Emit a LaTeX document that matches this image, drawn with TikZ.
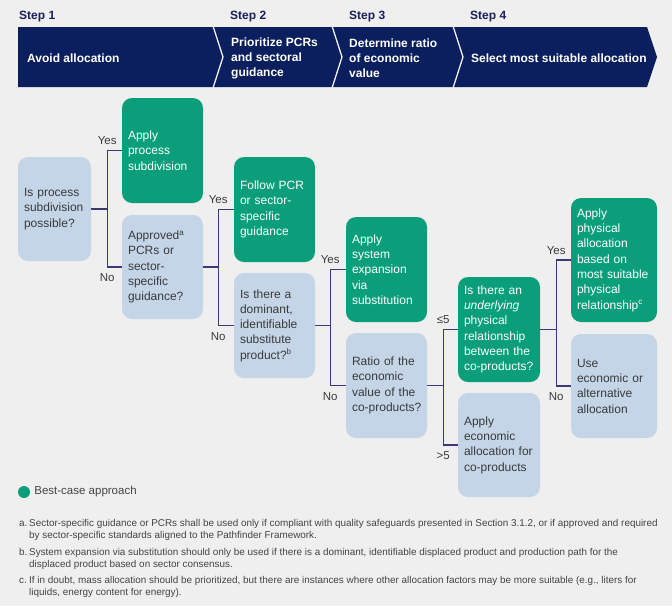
\documentclass[tikz,border=0pt]{standalone}
\usepackage{fontspec}
\setmainfont{Liberation Sans}
\usetikzlibrary{positioning}

\definecolor{pagegray}{HTML}{EFEFEF}
\definecolor{bandblue}{HTML}{0B1F5E}
\definecolor{steptext}{HTML}{1A1E5C}
\definecolor{bestgreen}{HTML}{0A9E7A}
\definecolor{queryblue}{HTML}{C3D5E7}
\definecolor{linkblue}{HTML}{3A3878}
\definecolor{textgray}{HTML}{3A3A3A}
\definecolor{notegray}{HTML}{444444}

\begin{document}
\begin{tikzpicture}[
        x=1pt, y=-1pt,
        box/.style={rounded corners=10pt, inner xsep=6pt, inner ysep=0pt, align=left,
            font=\fontsize{12}{15.3}\selectfont},
        best/.style={box, fill=bestgreen, text=white},
        query/.style={box, fill=queryblue, text=textgray},
        link/.style={draw=linkblue, line width=1.3pt},
        answer/.style={font=\fontsize{11.5}{13}\selectfont, text=textgray, inner sep=1pt},
        steplabel/.style={anchor=west, inner sep=0pt, text=steptext, font=\fontsize{12}{15}\selectfont\bfseries},
        bandtext/.style={anchor=west, inner sep=0pt, align=left, text=white, font=\fontsize{12}{15}\selectfont\bfseries},
        note/.style={anchor=north west, inner sep=0pt, align=left, text=notegray, font=\fontsize{9.9}{12}\selectfont}
    ]
        \useasboundingbox[fill=pagegray] (0,0) rectangle (672,606);

        % Steps
        \node[steplabel] (step1) at (19,17)  {Step 1};
        \node[steplabel] (step2) at (230,17) {Step 2};
        \node[steplabel] (step3) at (349,17) {Step 3};
        \node[steplabel] (step4) at (470,17) {Step 4};
        \fill[bandblue] (18,27) -- (647,27) -- (657,57) -- (647,87) -- (18,87) -- cycle;
        \foreach \x in {213,332,453}
            \draw[pagegray, line width=1.3pt] (\x,26) -- (\x+10,57) -- (\x,88);
        \node[bandtext] (avoid)    at (27,58)  {Avoid allocation};
        \node[bandtext] (pcrs)     at (231,58) {Prioritize PCRs\\and sectoral\\guidance};
        \node[bandtext] (ratio)    at (349,58) {Determine ratio\\of economic\\value};
        \node[bandtext] (suitable) at (471,58) {Select most suitable allocation};

        % Decision boxes
        \node[query, text width=61pt, minimum height=104pt] (subdiv) at (54.5,209)
            {Is process\\subdivision\\possible?};
        \node[best, text width=69pt, minimum height=105pt] (applysub) at (162.5,150.5)
            {Apply\\process\\subdivision};
        \node[query, text width=69pt, minimum height=104pt] (approved) at (162.5,267)
            {Approved\textsuperscript{a}\\PCRs or\\sector-\\specific\\guidance?};
        \node[best, text width=69pt, minimum height=105pt] (follow) at (274.5,209.5)
            {Follow PCR\\or sector-\\specific\\guidance};
        \node[query, text width=69pt, minimum height=105pt] (dominant) at (274.5,325.5)
            {Is there a\\dominant,\\identifiable\\substitute\\product?\textsuperscript{b}};
        \node[best, text width=69pt, minimum height=105pt] (expansion) at (386.5,269.5)
            {Apply\\system\\expansion\\via\\substitution};
        \node[query, text width=69pt, minimum height=105pt] (econratio) at (386.5,385.5)
            {Ratio of the\\economic\\value of the\\\mbox{co-products?}};
        \node[best, text width=70pt, minimum height=105pt] (physical) at (499,329.5)
            {Is there an\\\textit{underlying}\\physical\\relationship\\between the\\\mbox{co-products?}};
        \node[query, text width=70pt, minimum height=104pt] (econalloc) at (499,445)
            {Apply\\economic\\allocation for\\co-products};
        \node[best, text width=74pt, minimum height=124pt] (physalloc) at (614,260)
            {Apply\\physical\\allocation\\based on\\most suitable\\physical\\relationship\textsuperscript{c}};
        \node[query, text width=74pt, minimum height=104pt] (other) at (614,386)
            {Use\\economic or\\alternative\\allocation};

        % Connectors
        \draw[link] (subdiv.east) -- ++(16,0) |- node[answer, above=4pt] {Yes} (applysub.west);
        \draw[link] (subdiv.east) -- ++(16,0) |- node[answer, below=5pt] {No} (approved.west);
        \draw[link] (approved.east) -- ++(15,0) |- node[answer, above=4pt] {Yes} (follow.west);
        \draw[link] (approved.east) -- ++(15,0) |- node[answer, below=5pt] {No} (dominant.west);
        \draw[link] (dominant.east) -- ++(15,0) |- node[answer, above=4pt] {Yes} (expansion.west);
        \draw[link] (dominant.east) -- ++(15,0) |- node[answer, below=5pt] {No} (econratio.west);
        \draw[link] (econratio.east) -- ++(16,0) |- node[answer, above=4pt] {≤5} (physical.west);
        \draw[link] (econratio.east) -- ++(16,0) |- node[answer, below=5pt] {>5} (econalloc.west);
        \draw[link] (physical.east) -- ++(16,0) |- node[answer, above=4pt] {Yes} (physalloc.west);
        \draw[link] (physical.east) -- ++(16,0) |- node[answer, below=5pt] {No} (other.west);

        % Legend
        \node[circle, fill=bestgreen, minimum size=12pt, inner sep=0pt] (dot) at (24,492) {};
        \node[right=4pt of dot, inner sep=0pt, text=notegray, font=\fontsize{11.5}{13}\selectfont] (bestcase)
            {Best-case approach};

        % Notes
        \node[note] (notea) at (19,518) {\strut a.};
        \node[note] (texta) at (29,518) {\strut Sector-specific guidance or PCRs shall be used only if compliant with quality safeguards presented in Section 3.1.2, or if approved and required\\by sector-specific standards aligned to the Pathfinder Framework.};
        \node[note] (noteb) at (19,546.5) {\strut b.};
        \node[note] (textb) at (29,546.5) {\strut System expansion via substitution should only be used if there is a dominant, identifiable displaced product and production path for the\\displaced product based on sector consensus.};
        \node[note] (notec) at (19,575) {\strut c.};
        \node[note] (textc) at (29,575) {\strut If in doubt, mass allocation should be prioritized, but there are instances where other allocation factors may be more suitable (e.g., liters for\\liquids, energy content for energy).};
    \end{tikzpicture}
\end{document}
